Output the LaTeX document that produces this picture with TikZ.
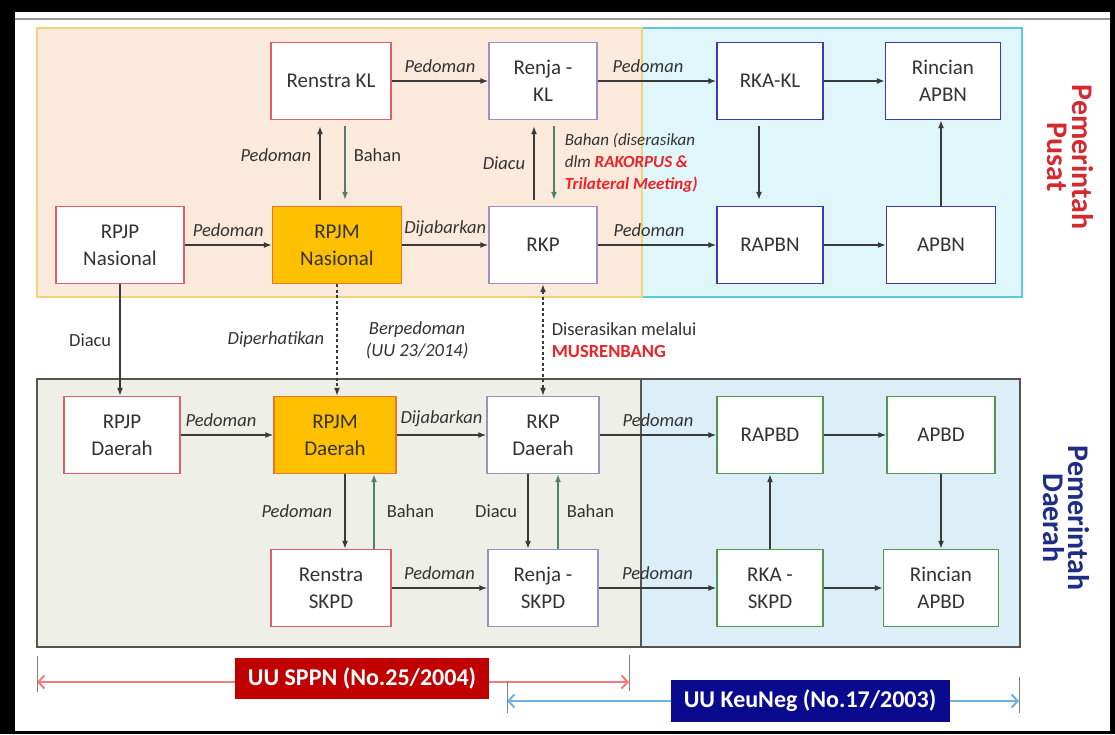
\documentclass[tikz,border=0pt]{standalone}
\usepackage{fontspec}
\setmainfont{Carlito}
\usetikzlibrary{arrows.meta}

\definecolor{ink}{HTML}{333333}
\definecolor{arrc}{HTML}{3A3A3A}
\definecolor{bahanc}{HTML}{4F7F6E}
\definecolor{peach}{HTML}{FBEADC}
\definecolor{peachline}{HTML}{F2D27A}
\definecolor{cyanfill}{HTML}{DFF6FB}
\definecolor{cyanline}{HTML}{5BC8DC}
\definecolor{greyfill}{HTML}{EEEFE6}
\definecolor{bluefill}{HTML}{DCEEF7}
\definecolor{regline}{HTML}{555555}
\definecolor{boxred}{HTML}{E0606A}
\definecolor{boxorg}{HTML}{E8762C}
\definecolor{orgfill}{HTML}{FFC000}
\definecolor{boxpur}{HTML}{9B8FCC}
\definecolor{boxblue}{HTML}{3B3BAF}
\definecolor{boxgrn}{HTML}{4E9A4E}
\definecolor{hotred}{HTML}{EE2229}
\definecolor{pusatc}{HTML}{D42A2F}
\definecolor{daerahc}{HTML}{1F2D86}
\definecolor{sppnc}{HTML}{C00000}
\definecolor{keunegc}{HTML}{0A0A8F}
\definecolor{sppnline}{HTML}{F47C7C}
\definecolor{keunegline}{HTML}{6BB5DE}

\begin{document}
\begin{tikzpicture}[x=1pt, y=-1pt,
    box/.style={draw, line width=1.3pt, fill=white, text=ink, align=center,
      minimum height=77pt, inner sep=1pt, font=\fontsize{21}{27}\selectfont},
    redbox/.style={box, draw=boxred},
    orgbox/.style={box, draw=boxorg, fill=orgfill},
    purbox/.style={box, draw=boxpur},
    bluebox/.style={box, draw=boxblue},
    grnbox/.style={box, draw=boxgrn},
    arr/.style={draw=arrc, line width=1.6pt, -{Latex[length=8pt,width=6pt]}},
    bahan/.style={arr, draw=bahanc},
    dotarr/.style={arr, dash pattern=on 3pt off 2.5pt},
    gap/.style={shorten <=6pt, shorten >=6pt},
    lbl/.style={text=ink, font=\fontsize{18.5}{22}\selectfont\itshape, inner sep=2pt},
    plain/.style={text=ink, font=\fontsize{18.5}{22}\selectfont, inner sep=2pt},
    side/.style={rotate=-90, align=center, font=\fontsize{30}{25}\selectfont\bfseries},
    lawbox/.style={text=white, font=\fontsize{24}{28}\selectfont\bfseries, inner sep=0pt},
    tick/.style={draw=gray, line width=1pt}]

  \useasboundingbox (0,0) rectangle (1115,734);
  \fill[black] (0,0) rectangle (1115,734);
  \fill[white] (15,12) rectangle (1110,731);
  \draw[gray!80, line width=2pt] (15,19) -- (1110,19);

  % regions
  \draw[fill=cyanfill, draw=cyanline, line width=1.5pt] (642,28) rectangle (1022,297);
  \draw[fill=peach, draw=peachline, line width=1.5pt] (37,28) rectangle (642,297);
  \draw[fill=greyfill, draw=regline, line width=2pt] (37,379) rectangle (641,647);
  \draw[fill=bluefill, draw=regline, line width=2pt] (641,379) rectangle (1020,647);

  % boxes
  \foreach \al/\x/\y/\w/\lab in {%
    RenstraKL/331/81/120/Renstra KL,%
    RPJPN/120/245/128/{RPJP\\Nasional},%
    RPJPD/122/435/116/{RPJP\\Daerah},%
    RenstraSKPD/331/588/120/{Renstra\\SKPD}%
  }{ \node[redbox, minimum width=\w pt] (\al) at (\x,\y) {\lab}; }

  \foreach \al/\x/\y/\w/\lab in {%
    RPJMN/337/245/129/{RPJM\\Nasional},%
    RPJMD/335/435/122/{RPJM\\Daerah}%
  }{ \node[orgbox, minimum width=\w pt] (\al) at (\x,\y) {\lab}; }

  \foreach \al/\x/\y/\w/\lab in {%
    RenjaKL/543/81/108/{Renja -\\KL},%
    RKP/543/245/108/RKP,%
    RKPD/543/435/112/{RKP\\Daerah},%
    RenjaSKPD/543/588/110/{Renja -\\SKPD}%
  }{ \node[purbox, minimum width=\w pt] (\al) at (\x,\y) {\lab}; }

  \foreach \al/\x/\y/\w/\lab in {%
    RKAKL/770/81/106/RKA-KL,%
    RincianAPBN/943/81/115/{Rincian\\APBN},%
    RAPBN/770/245/106/RAPBN,%
    APBN/941/245/109/APBN%
  }{ \node[bluebox, minimum width=\w pt] (\al) at (\x,\y) {\lab}; }

  \foreach \al/\x/\y/\w/\lab in {%
    RAPBD/770/435/106/RAPBD,%
    APBD/941/435/108/APBD,%
    RKASKPD/770/588/106/{RKA -\\SKPD},%
    RincianAPBD/941/588/115/{Rincian\\APBD}%
  }{ \node[grnbox, minimum width=\w pt] (\al) at (\x,\y) {\lab}; }

  % pusat
  \draw[arr] (RenstraKL) -- node[lbl, above=6pt] {Pedoman} (RenjaKL);
  \draw[arr] (RenjaKL) -- node[lbl, above=6pt, xshift=-9pt] {Pedoman} (RKAKL);
  \draw[arr] (RKAKL) -- (RincianAPBN);
  \draw[arr, gap] ([xshift=-11pt]RKAKL.south) -- ([xshift=-11pt]RKAKL.south |- RAPBN.north);
  \draw[arr] (RAPBN) -- (APBN);
  \draw[arr] (APBN.north) -- (APBN.north |- RincianAPBN.south);
  \draw[arr] (RPJPN) -- node[lbl, above=6pt] {Pedoman} (RPJMN);
  \draw[arr] (RPJMN) -- node[lbl, above=6pt] {Dijabarkan} (RKP);
  \draw[arr] (RKP) -- node[lbl, above=6pt, xshift=-8pt] {Pedoman} (RAPBN);

  \draw[arr, gap] ([xshift=-11pt]RenstraKL.south |- RPJMN.north)
    -- node[lbl, left=6pt, yshift=8pt] {Pedoman} ([xshift=-11pt]RenstraKL.south);
  \draw[bahan, gap] ([xshift=14pt]RenstraKL.south)
    -- node[plain, right=6pt, yshift=8pt] {Bahan} ([xshift=14pt]RenstraKL.south |- RPJMN.north);
  \draw[arr, gap] ([xshift=-9pt]RenjaKL.south |- RKP.north)
    -- node[lbl, left=6pt] {Diacu} ([xshift=-9pt]RenjaKL.south);
  \draw[bahan, gap] ([xshift=11pt]RenjaKL.south)
    -- node[lbl, right=8pt, align=left, font=\fontsize{17}{22}\selectfont\itshape] {Bahan (diserasikan\\
      dlm \textcolor{hotred}{\bfseries RAKORPUS \&}\\
      \textcolor{hotred}{\bfseries Trilateral Meeting)}} ([xshift=11pt]RenjaKL.south |- RKP.north);

  % pusat -- daerah
  \draw[arr] (RPJPN.south) -- node[plain, left=6pt] {Diacu} (RPJPN.south |- RPJPD.north);
  \draw[dotarr] (RPJMN.south) -- node[lbl, left=10pt] {Diperhatikan}
    node[lbl, right=26pt, align=center] {Berpedoman\\(UU 23/2014)} (RPJMN.south |- RPJMD.north);
  \draw[dotarr, {Latex[length=8pt,width=6pt]}-{Latex[length=8pt,width=6pt]}] (RKP.south)
    -- node[plain, right=6pt, align=left] {Diserasikan melalui\\
      \textcolor{hotred}{\bfseries MUSRENBANG}} (RKP.south |- RKPD.north);

  % daerah
  \draw[arr] (RPJPD) -- node[lbl, above=6pt, xshift=-6pt] {Pedoman} (RPJMD);
  \draw[arr] (RPJMD) -- node[lbl, above=6pt] {Dijabarkan} (RKPD);
  \draw[arr] (RKPD) -- node[lbl, above=6pt] {Pedoman} (RAPBD);
  \draw[arr] (RAPBD) -- (APBD);
  \draw[arr] (APBD.south) -- (APBD.south |- RincianAPBD.north);
  \draw[arr] (RKASKPD) -- (RAPBD);
  \draw[arr] (RKASKPD) -- (RincianAPBD);
  \draw[arr] (RenjaSKPD) -- node[lbl, above=6pt] {Pedoman} (RKASKPD);
  \draw[arr] (RenstraSKPD) -- node[lbl, above=6pt] {Pedoman} (RenjaSKPD);

  \draw[arr] ([xshift=10pt]RPJMD.south)
    -- node[lbl, left=10pt] {Pedoman} ([xshift=10pt]RPJMD.south |- RenstraSKPD.north);
  \draw[bahan] ([xshift=39pt]RPJMD.south |- RenstraSKPD.north)
    -- node[plain, right=10pt] {Bahan} ([xshift=39pt]RPJMD.south);
  \draw[arr] ([xshift=-15pt]RKPD.south)
    -- node[plain, left=8pt] {Diacu} ([xshift=-15pt]RKPD.south |- RenjaSKPD.north);
  \draw[bahan] ([xshift=15pt]RKPD.south |- RenjaSKPD.north)
    -- node[plain, right=6pt] {Bahan} ([xshift=15pt]RKPD.south);

  % side labels
  \node[side, text=pusatc] (pusat) at (1070,157) {Pemerintah\\Pusat};
  \node[side, text=daerahc] (daerah) at (1066,518) {Pemerintah\\Daerah};

  % undang-undang
  \coordinate (sL) at (37,682);
  \coordinate (sR) at (629,682);
  \coordinate (kL) at (507,701);
  \coordinate (kR) at (1019,701);
  \draw[sppnline, line width=2pt, {Straight Barb[length=6pt,width=13pt]}-{Straight Barb[length=6pt,width=13pt]}] (sL) -- (sR);
  \draw[keunegline, line width=2pt, {Straight Barb[length=6pt,width=13pt]}-{Straight Barb[length=6pt,width=13pt]}] (kL) -- (kR);
  \draw[tick] (sL) ++(0,-26) -- ++(0,36);
  \draw[tick] (sR) ++(0,-27) -- ++(0,36);
  \draw[tick] (kL) ++(0,-20) -- ++(0,32);
  \draw[tick] (kR) ++(0,-24) -- ++(0,36);
  \node[lawbox, fill=sppnc, minimum width=254pt, minimum height=41pt] (sppn) at (362,678) {UU SPPN (No.25/2004)};
  \node[lawbox, fill=keunegc, minimum width=279pt, minimum height=42pt] (keuneg) at (810,701) {UU KeuNeg (No.17/2003)};
\end{tikzpicture}
\end{document}
